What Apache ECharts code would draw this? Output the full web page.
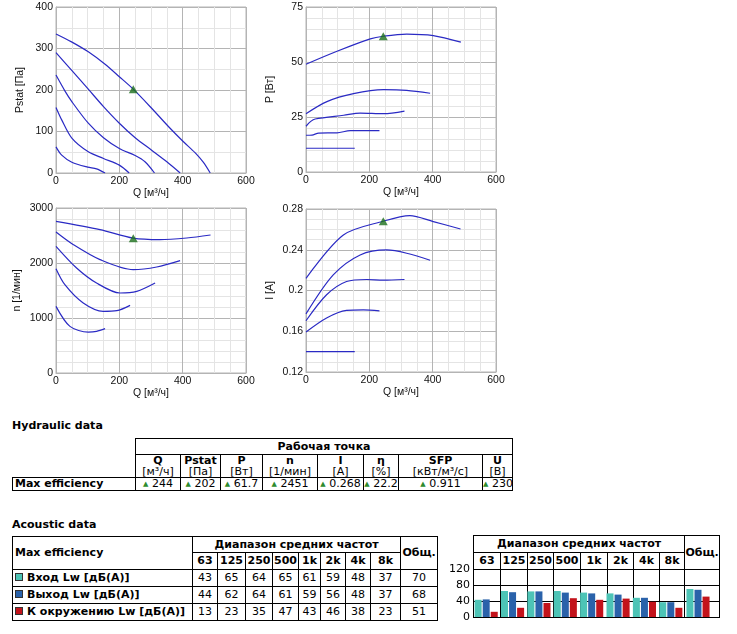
<!DOCTYPE html>
<html><head><meta charset="utf-8">
<script src="https://cdn.jsdelivr.net/npm/echarts@6/dist/echarts.min.js"></script>
<style>
html,body{margin:0;padding:0;background:#fff;}
body{width:737px;height:634px;position:relative;overflow:hidden;font-family:"DejaVu Sans",Verdana,sans-serif;color:#000;}
#chart{position:absolute;left:0;top:0;width:737px;height:634px;z-index:2;pointer-events:none;}
.ttl{position:absolute;left:12px;font-weight:bold;font-size:11px;line-height:14px;z-index:1;}
table{position:absolute;border-collapse:collapse;table-layout:fixed;font-size:11px;z-index:1;}
td{border:1px solid #000;padding:0;text-align:center;vertical-align:middle;overflow:hidden;white-space:nowrap;line-height:12px;}
.b{font-weight:bold;}
.lft{text-align:left;padding-left:2px;}
.lh{line-height:11px;}
.tri{color:#2e8b2e;font-size:7px;vertical-align:1px;}
.sq{display:inline-block;width:6px;height:6px;border:1px solid #333;margin-right:4px;vertical-align:0px;}
</style>
</head><body>
<div id="chart"></div>
<div class="ttl" style="top:419px">Hydraulic data</div>
<div class="ttl" style="top:518px">Acoustic data</div>
<div id="tables"></div>
<script>
// ---------- data ----------
const qTicks = [0, 200, 400, 600];
const pstatCurves = [
  [[0,335],[49,316],[102,292],[155,262],[200,232],[244,202],[302,156],[355,112],[400,77],[439,49],[465,26],[487,0]],
  [[0,290],[49,248],[102,202],[150,160],[200,120],[250,85],[302,55],[350,27],[392,0]],
  [[0,236],[28,198],[50,172],[102,120],[150,85],[200,59],[250,42],[281,27],[311,0]],
  [[0,158],[18,128],[50,84],[102,51],[150,35],[200,19],[231,0]],
  [[0,63],[18,43],[50,26],[100,14],[128,10],[155,0]]
];
const powerCurves = [
  [[0,49],[100,55],[203,60.5],[244,61.7],[318,62.7],[402,62],[489,59]],
  [[0,26.5],[66,32],[150,35.6],[245,37.4],[318,37.1],[392,35.8]],
  [[0,20.8],[15,23],[29,24.1],[119,25.8],[171,26.8],[245,26.5],[311,27.7]],
  [[0,16.7],[19,16.8],[40,17.7],[98,17.8],[140,18.8],[232,18.8]],
  [[0,10.8],[154,10.8]]
];
const speedCurves = [
  [[0,2758],[139,2606],[244,2451],[328,2424],[413,2455],[488,2509]],
  [[0,2564],[55,2333],[139,2061],[244,1879],[318,1927],[392,2042]],
  [[0,2303],[65,1909],[128,1636],[202,1455],[255,1485],[313,1636]],
  [[0,1897],[28,1606],[86,1273],[149,1121],[192,1133],[234,1230]],
  [[0,1212],[44,848],[102,745],[128,758],[155,806]]
];
const currentCurves = [
  [[0,0.212],[118,0.2545],[244,0.268],[328,0.2735],[402,0.2676],[488,0.2604]],
  [[0,0.177],[86,0.2153],[171,0.2349],[255,0.2398],[318,0.2366],[392,0.2297]],
  [[0,0.1703],[65,0.1958],[128,0.2088],[192,0.2108],[244,0.2101],[311,0.2108]],
  [[0,0.1592],[65,0.173],[128,0.1804],[181,0.181],[232,0.18]],
  [[0,0.14],[154,0.14]]
];
const opQ = 244, opPstat = 202, opP = 61.7, opN = 2451, opI = 0.268;

const hydNames = ['Q','Pstat','P','n','I','η','SFP','U'];
const hydUnits = ['[м³/ч]','[Па]','[Вт]','[1/мин]','[А]','[%]','[кВт/м³/с]','[В]'];
const hydValues = ['244','202','61.7','2451','0.268','22.2','0.911','230'];

const bands = ['63','125','250','500','1k','2k','4k','8k'];
const rowLabels = ['Вход Lw [дБ(А)]','Выход Lw [дБ(А)]','К окружению Lw [дБ(А)]'];
const inletLw = [43,65,64,65,61,59,48,37];
const outletLw = [44,62,64,61,59,56,48,37];
const surroundLw = [13,23,35,47,43,46,38,23];
const totals = [70,68,51];
const barTicks = [0,40,80,120];

// ---------- styles ----------
const colors = ['#4dc4b6','#2a62aa','#c3131b'];
const lineColor = '#2a2ac4';
const markColor = '#1b6f1b';
const axFont = 'Liberation Sans, Arial, sans-serif';

// ---------- tables ----------
const hydColW = [123,45,40,42,55,46,35,84,30];
const acColW = [180,25,28,27,26,22,25,25,30,37];
const barColW = [27,27,26,27,27,26,26,25,35];
const cg = ws => '<colgroup>' + ws.map(w => `<col style="width:${w}px">`).join('') + '</colgroup>';
const sum = ws => ws.reduce((a,b)=>a+b,0);

let html = '';
html += `<table style="left:12px;top:438px;width:${sum(hydColW)}px">` + cg(hydColW);
html += '<tr style="height:16px"><td rowspan="2" style="border:none"></td><td colspan="8" class="b">Рабочая точка</td></tr>';
html += '<tr style="height:23px">' + hydNames.map((n,i)=>`<td><div class="b lh">${n}</div><div class="lh">${hydUnits[i]}</div></td>`).join('') + '</tr>';
html += '<tr style="height:12px"><td class="b lft">Max efficiency</td>' + hydValues.map(v=>`<td><span class="tri">▲</span> ${v}</td>`).join('') + '</tr>';
html += '</table>';

const acRows = [inletLw, outletLw, surroundLw];
html += `<table style="left:12px;top:536px;width:${sum(acColW)}px">` + cg(acColW);
html += '<tr style="height:16px"><td rowspan="2" class="b lft">Max efficiency</td><td colspan="8" class="b">Диапазон средних частот</td><td rowspan="2" class="b">Общ.</td></tr>';
html += '<tr style="height:17px">' + bands.map(b=>`<td class="b">${b}</td>`).join('') + '</tr>';
acRows.forEach((r,i)=>{
  html += '<tr style="height:17px"><td class="b lft"><span class="sq" style="background:'+colors[i]+'"></span>' + rowLabels[i] + '</td>' +
    r.map(v=>`<td>${v}</td>`).join('') + `<td>${totals[i]}</td></tr>`;
});
html += '</table>';

html += `<table style="left:473px;top:535px;width:${sum(barColW)}px">` + cg(barColW);
html += '<tr style="height:17px"><td colspan="8" class="b">Диапазон средних частот</td><td rowspan="2" class="b">Общ.</td></tr>';
html += '<tr style="height:17px">' + bands.map(b=>`<td class="b">${b}</td>`).join('') + '</tr>';
for (let k=0;k<3;k++) html += '<tr style="height:16px">' + barColW.map(()=>'<td></td>').join('') + '</tr>';
html += '</table>';
document.getElementById('tables').innerHTML = html;

// ---------- charts ----------
const grids = [
  {left:56, top:7, width:190, height:166},
  {left:306, top:7, width:190, height:165},
  {left:56, top:208, width:190, height:165},
  {left:306, top:209, width:190, height:163},
  {left:473, top:569, width:211, height:48},
  {left:684, top:569, width:28, height:48}
].map((g,i)=> Object.assign(g, i<4 ? {show:true, borderColor:'#b4b4b4', borderWidth:1, backgroundColor:'transparent'} : {show:false}));

function xLine(gi){
  return {gridIndex:gi, type:'value', min:qTicks[0], max:qTicks[qTicks.length-1], interval:qTicks[1]-qTicks[0],
    name:'Q [м³/ч]', nameLocation:'middle', nameGap:13,
    nameTextStyle:{fontFamily:axFont, fontSize:10.5, color:'#111'},
    axisLine:{show:true, onZero:false, lineStyle:{color:'#b4b4b4'}}, axisTick:{show:false},
    axisLabel:{fontFamily:axFont, fontSize:10.5, color:'#111', margin:3},
    splitLine:{show:true, lineStyle:{color:'#b4b4b4', width:1}},
    minorTick:{show:false, splitNumber:4},
    minorSplitLine:{show:true, lineStyle:{color:'#e4e4e4', width:1}}};
}
function yLine(gi, min, max, interval, minor, name, gap, fmt){
  return {gridIndex:gi, type:'value', min, max, interval, name, nameLocation:'middle', nameGap:gap,
    nameTextStyle:{fontFamily:axFont, fontSize:10.5, color:'#111'},
    axisLine:{show:true, onZero:false, lineStyle:{color:'#b4b4b4'}}, axisTick:{show:false},
    axisLabel:{fontFamily:axFont, fontSize:10.5, color:'#111', margin:3, formatter: fmt || (v=>String(v))},
    splitLine:{show:true, lineStyle:{color:'#b4b4b4', width:1}},
    minorTick:{show:false, splitNumber:minor},
    minorSplitLine:{show:true, lineStyle:{color:'#e4e4e4', width:1}}};
}

const xAxes = [xLine(0), xLine(1), xLine(2), xLine(3),
  {gridIndex:4, type:'category', data:bands, show:false},
  {gridIndex:5, type:'category', data:['Общ.'], show:false}];
const yAxes = [
  yLine(0, 0, 400, 100, 2, 'Pstat [Па]', 30),
  yLine(1, 0, 75, 25, 5, 'P [Вт]', 30),
  yLine(2, 0, 3000, 1000, 5, 'n [1/мин]', 33),
  yLine(3, 0.12, 0.28, 0.04, 4, 'I [A]', 30, v=>String(+v.toFixed(2))),
  {gridIndex:4, type:'value', min:barTicks[0], max:barTicks[barTicks.length-1], interval:barTicks[1]-barTicks[0],
    axisLine:{show:false}, axisTick:{show:false}, splitLine:{show:false},
    axisLabel:{fontFamily:'DejaVu Sans', fontSize:11, color:'#000', margin:3}},
  {gridIndex:5, type:'value', min:barTicks[0], max:barTicks[barTicks.length-1], show:false, splitLine:{show:false}}
];

const series = [];
[pstatCurves, powerCurves, speedCurves, currentCurves].forEach((curves, gi)=>{
  curves.forEach(c=>series.push({type:'line', xAxisIndex:gi, yAxisIndex:gi, data:c, smooth:0.3,
    showSymbol:false, symbol:'none', lineStyle:{color:lineColor, width:1.2}, silent:true}));
});
[[opQ,opPstat],[opQ,opP],[opQ,opN],[opQ,opI]].forEach((p,gi)=>{
  series.push({type:'scatter', xAxisIndex:gi, yAxisIndex:gi, data:[p], symbol:'triangle', symbolSize:[9,8],
    itemStyle:{color:markColor}, z:5, silent:true});
});
acRows.forEach((r,i)=>{
  series.push({type:'bar', xAxisIndex:4, yAxisIndex:4, data:r, barWidth:7, barGap:'15%', itemStyle:{color:colors[i]}, silent:true});
});
totals.forEach((t,i)=>{
  series.push({type:'bar', xAxisIndex:5, yAxisIndex:5, data:[t], barWidth:7, barGap:'15%', itemStyle:{color:colors[i]}, silent:true});
});

const chart = echarts.init(document.getElementById('chart'));
chart.setOption({animation:false, grid:grids, xAxis:xAxes, yAxis:yAxes, series});
</script>
</body></html>
